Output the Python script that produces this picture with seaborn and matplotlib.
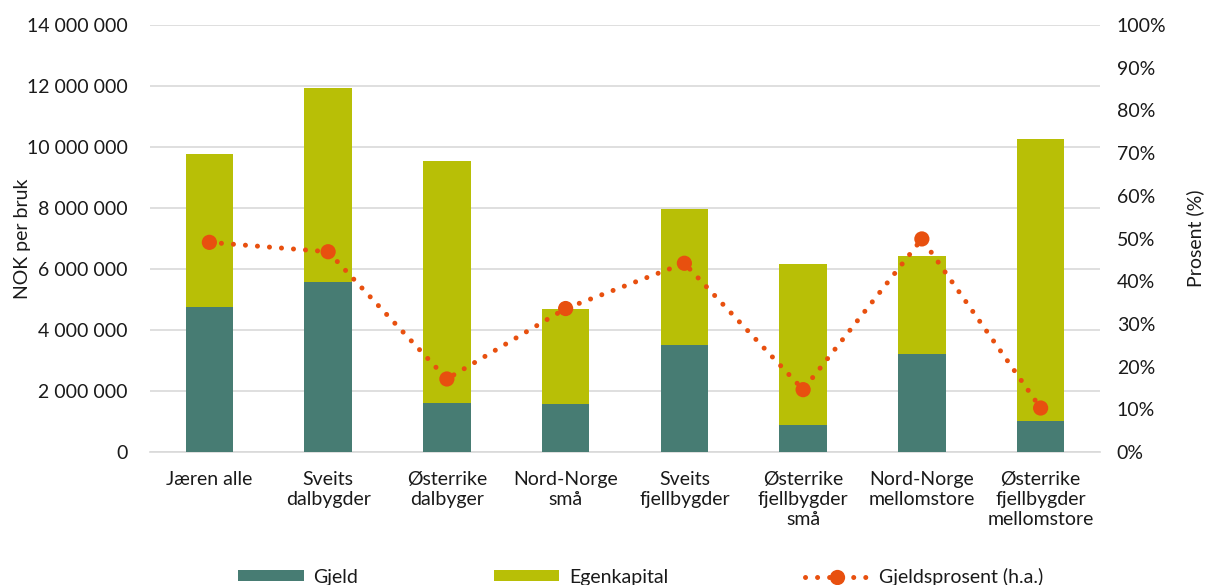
import matplotlib
matplotlib.use("Agg")
import matplotlib.pyplot as plt
from matplotlib.patches import Patch
from matplotlib.lines import Line2D
from matplotlib.ticker import FuncFormatter, MultipleLocator
import seaborn as sns
import pandas as pd
import numpy as np

# Driftsgrupper
categories = [
    "Jæren alle",
    "Sveits\ndalbygder",
    "Østerrike\ndalbyger",
    "Nord-Norge\nsmå",
    "Sveits\nfjellbygder",
    "Østerrike\nfjellbygder\nsmå",
    "Nord-Norge\nmellomstore",
    "Østerrike\nfjellbygder\nmellomstore",
]
# NOK per bruk
gjeld = [4_770_000, 5_570_000, 1_620_000, 1_570_000, 3_500_000, 880_000, 3_200_000, 1_030_000]
egenkapital = [4_990_000, 6_360_000, 7_930_000, 3_130_000, 4_470_000, 5_290_000, 3_230_000, 9_230_000]
# Gjeldsprosent (høyre akse)
gjeldsprosent = [49.1, 46.9, 17.1, 33.6, 44.2, 14.6, 49.9, 10.3]

C_GJELD = "#477C73"
C_EK = "#B8BF06"
C_LINE = "#E8500F"
GRID = "#D9D9D9"
TEXT = "#1a1a1a"
FS = 14

sns.set_theme(style="white")
plt.rcParams["font.family"] = ["Lato", "DejaVu Sans"]
plt.rcParams["text.color"] = TEXT

df = pd.DataFrame({
    "gruppe": categories,
    "gjeld": gjeld,
    "egenkapital": egenkapital,
    "prosent": gjeldsprosent,
})
df["total"] = df["gjeld"] + df["egenkapital"]
df["pos"] = np.arange(len(df))

fig = plt.figure(figsize=(12.05, 5.85), dpi=100)
ax = fig.add_axes([150 / 1205, 1 - 452 / 585, 950 / 1205, 427 / 585])

# Stacked bars: total (egenkapital on top) drawn first, gjeld over it
sns.barplot(data=df, x="gruppe", y="total", color=C_EK, width=0.4,
            saturation=1, ax=ax, zorder=2, linewidth=0)
sns.barplot(data=df, x="gruppe", y="gjeld", color=C_GJELD, width=0.4,
            saturation=1, ax=ax, zorder=3, linewidth=0)

ax.set_xlim(-0.5, len(df) - 0.5)
ax.set_ylim(0, 14_000_000)
ax.yaxis.set_major_locator(MultipleLocator(2_000_000))
ax.yaxis.set_major_formatter(FuncFormatter(lambda v, p: f"{int(v):,}".replace(",", " ")))
ax.grid(axis="y", color=GRID, linewidth=1.2, zorder=0)
ax.set_axisbelow(True)
for s in ["top", "right", "left"]:
    ax.spines[s].set_visible(False)
ax.spines["bottom"].set_color(GRID)
ax.spines["bottom"].set_linewidth(1.2)
ax.tick_params(axis="both", length=0, labelsize=FS, colors=TEXT)
ax.tick_params(axis="y", pad=16)
ax.tick_params(axis="x", pad=14)
ax.set_xlabel("")
ax.set_ylabel("NOK per bruk", fontsize=FS, color=TEXT)
ax.yaxis.set_label_coords(-0.125, 0.5)

# Gjeldsprosent on secondary axis
ax2 = ax.twinx()
ax2.set_ylim(0, 100)
ax2.set_xlim(ax.get_xlim())
ax2.plot(df["pos"], df["prosent"], color=C_LINE, linewidth=3.6,
         linestyle=(0, (0.01, 2.4)), dash_capstyle="round", zorder=4)
sns.scatterplot(x=df["pos"], y=df["prosent"], color=C_LINE, s=120,
                edgecolor="none", ax=ax2, zorder=5)
ax2.yaxis.set_major_locator(MultipleLocator(10))
ax2.yaxis.set_major_formatter(FuncFormatter(lambda v, p: f"{int(round(v))}%"))
for s in ["top", "right", "left", "bottom"]:
    ax2.spines[s].set_visible(False)
ax2.tick_params(axis="y", length=0, labelsize=FS, colors=TEXT, pad=12)
ax2.set_ylabel("Prosent (%)", fontsize=FS, color=TEXT)
ax2.yaxis.set_label_coords(1.091, 0.5)

handles = [
    Patch(facecolor=C_GJELD, edgecolor="none"),
    Patch(facecolor=C_EK, edgecolor="none"),
    Line2D([0], [0], color=C_LINE, linewidth=3.6, linestyle=(0, (0.01, 2.4)),
           dash_capstyle="round", marker="o", markersize=11,
           markerfacecolor=C_LINE, markeredgecolor="none"),
]
labels = ["Gjeld", "Egenkapital", "Gjeldsprosent (h.a.)"]
fig.legend(handles, labels, loc="center", bbox_to_anchor=(0.532, 0.014),
           ncol=3, frameon=False, fontsize=FS, handlelength=3.35,
           handleheight=0.5, columnspacing=7.0, handletextpad=0.5)

fig.savefig("out.png", dpi=100)
